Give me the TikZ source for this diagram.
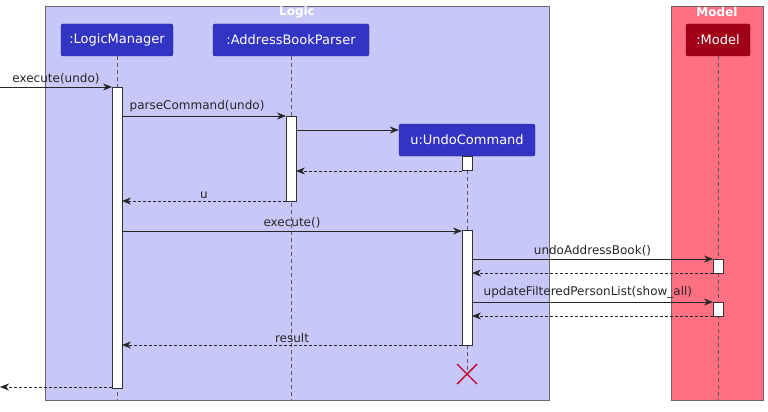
\documentclass[tikz,border=0pt]{standalone}
\usepackage{fontspec}
\setmainfont{DejaVu Sans}
\usetikzlibrary{arrows.meta,calc}
\definecolor{logicbg}{HTML}{C8C8F8}
\definecolor{modelbg}{HTML}{FF7083}
\definecolor{partL}{HTML}{3333C4}
\definecolor{partM}{HTML}{A00018}
\definecolor{xred}{HTML}{C0002C}
\begin{document}
\begin{tikzpicture}[x=1pt,y=-1pt,
  txt/.style={font=\fontsize{12}{14}\selectfont},
  part/.style={draw=partL!70!black,fill=partL,text=white,rounded corners=2pt,minimum height=32pt,inner xsep=4pt,font=\fontsize{13}{15}\selectfont},
  life/.style={gray!70!black,dash pattern=on 4pt off 3pt,line width=0.6pt},
  act/.style={draw=black!80,fill=white,line width=0.6pt},
  msg/.style={-{Stealth[length=9pt,width=7pt]},line width=0.7pt,black!85},
  ret/.style={msg,dash pattern=on 3pt off 2pt},
  grp/.style={draw=gray!80!black,line width=0.6pt}]
\useasboundingbox (0,0) rectangle (768,412);
\draw[grp,fill=logicbg] (45,6) rectangle (549,400);
\draw[grp,fill=modelbg] (671,6) rectangle (763,400);
\node[text=white,font=\bfseries\fontsize{12}{14}\selectfont] (tl) at (297,12) {Logic};
\node[text=white,font=\bfseries\fontsize{12}{14}\selectfont] (tm) at (717,12) {Model};
\node[part,minimum width=112pt] (lm) at (117,40) {:LogicManager};
\node[part,minimum width=156pt] (abp) at (291,40) {:AddressBookParser};
\node[part,fill=partM,draw=partM!70!black,minimum width=64pt] (mo) at (718,40) {:Model};
\node[part,minimum width=136pt] (uc) at (467,140) {u:UndoCommand};
\draw[life] (lm.south) -- (117,400);
\draw[life] (abp.south) -- (291,400);
\draw[life] (mo.south) -- (718,400);
\draw[life] (uc.south) -- (467,372);
\draw[act] (112,87) rectangle (122,388);
\draw[act] (286,116) rectangle (296,201);
\draw[act] (462,156) rectangle (472,170);
\draw[act] (462,230) rectangle (472,345);
\draw[act] (713,259) rectangle (723,273);
\draw[act] (713,302) rectangle (723,316);
\coordinate (s0) at (0,87); \coordinate (e0) at (112,87);
\draw[msg] (s0) -- (e0) node[txt,midway,above=-1pt,xshift=0pt] {execute(undo)};
\coordinate (a1) at (122,116); \coordinate (b1) at (286,116);
\draw[msg] (a1) -- (b1) node[txt,pos=0,anchor=south west,xshift=4pt] {parseCommand(undo)};
\coordinate (a2) at (296,130);
\draw[msg] (a2) -- (uc.west|-a2);
\coordinate (a3) at (462,171); \coordinate (b3) at (296,171);
\draw[ret] (a3) -- (b3);
\coordinate (a4) at (286,201); \coordinate (b4) at (122,201);
\draw[ret] (a4) -- (b4) node[txt,midway,above=-1pt] {u};
\coordinate (a5) at (122,231); \coordinate (b5) at (462,231);
\draw[msg] (a5) -- (b5) node[txt,midway,above=-1pt] {execute()};
\coordinate (a6) at (472,259); \coordinate (b6) at (713,259);
\draw[msg] (a6) -- (b6) node[txt,midway,above=-1pt] {undoAddressBook()};
\coordinate (a7) at (713,273); \coordinate (b7) at (472,273);
\draw[ret] (a7) -- (b7);
\coordinate (a8) at (472,302); \coordinate (b8) at (713,302);
\draw[msg] (a8) -- (b8) node[txt,pos=0,anchor=south west,xshift=8pt] {updateFilteredPersonList(show\_all)};
\coordinate (a9) at (713,316); \coordinate (b9) at (472,316);
\draw[ret] (a9) -- (b9);
\coordinate (a10) at (462,345); \coordinate (b10) at (122,345);
\draw[ret] (a10) -- (b10) node[txt,midway,above=-1pt] {result};
\coordinate (a11) at (112,387); \coordinate (b11) at (0,387);
\draw[ret] (a11) -- (b11);
\coordinate (x) at (467,374);
\draw[xred,line width=1.4pt] ($(x)+(-10,-10)$) -- ($(x)+(10,10)$) ($(x)+(-10,10)$) -- ($(x)+(10,-10)$);
\end{tikzpicture}
\end{document}
